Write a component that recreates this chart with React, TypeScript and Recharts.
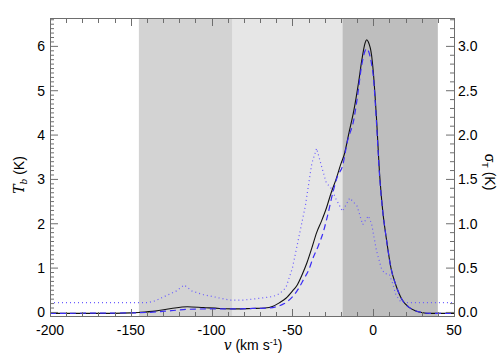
import { ComposedChart, Line, XAxis, YAxis, ReferenceArea } from 'recharts';

// observed brightness temperature T_b (K)
const tbVel = [-200, -180, -160, -150, -145, -135, -125, -115, -105, -95, -85, -75, -67, -62, -58, -54, -50, -47, -44, -41, -38, -35, -32, -29, -26, -23, -20, -18, -15, -12, -9, -7, -5, -4, -3, -1, 0, 2, 4, 6, 8, 11, 14, 18, 22, 26, 30, 35, 50];
const tbVals = [-0.02, -0.02, -0.02, -0.01, 0.0, 0.03, 0.09, 0.13, 0.11, 0.09, 0.08, 0.09, 0.1, 0.14, 0.22, 0.32, 0.48, 0.62, 0.85, 1.12, 1.45, 1.8, 2.06, 2.35, 2.7, 3.0, 3.35, 3.55, 4.05, 4.55, 5.2, 5.7, 6.08, 6.15, 6.1, 5.8, 5.45, 4.4, 3.1, 2.25, 1.7, 1.0, 0.62, 0.28, 0.12, 0.04, 0.0, -0.02, -0.02];

// model spectrum (dashed)
const fitVel = [-200, -150, -140, -125, -115, -100, -85, -75, -65, -60, -55, -50, -46, -43, -40, -37, -34, -31, -28, -25, -22, -19, -16, -12, -10, -7, -5, -4, -3, -1, 0, 2, 4, 6, 8, 11, 14, 18, 22, 26, 30, 35, 50];
const fitVals = [-0.02, -0.01, 0.0, 0.04, 0.07, 0.08, 0.08, 0.09, 0.1, 0.13, 0.2, 0.35, 0.55, 0.75, 0.95, 1.25, 1.5, 1.8, 2.22, 2.7, 3.08, 3.3, 3.85, 4.35, 4.8, 5.6, 5.9, 5.95, 5.9, 5.6, 5.35, 4.3, 3.05, 2.25, 1.7, 1.0, 0.62, 0.28, 0.12, 0.04, 0.0, -0.02, -0.02];

// noise sigma_T (K), right axis
const sigmaVel = [-200, -140, -135, -128, -122, -117, -112, -105, -97, -89, -80, -70, -62, -58, -54, -50, -46, -42, -38, -35, -32, -29, -26, -23, -19, -14.5, -10, -6.5, -3, -1, 2, 5, 7, 10, 12, 14, 17, 20, 50];
const sigmaVals = [0.11, 0.11, 0.13, 0.19, 0.24, 0.31, 0.24, 0.2, 0.17, 0.14, 0.14, 0.16, 0.18, 0.21, 0.28, 0.5, 0.85, 1.2, 1.68, 1.85, 1.65, 1.46, 1.4, 1.28, 1.14, 1.29, 1.2, 0.99, 1.09, 1.0, 0.7, 0.5, 0.44, 0.43, 0.33, 0.2, 0.12, 0.11, 0.11];

// velocity windows (km/s)
const windowEdges = [-145, -87, -19, 40];

const xMajor = [-200, -150, -100, -50, 0, 50];
const yLeftTicks = [0, 1, 2, 3, 4, 5, 6];
const yRightTicks = [0, 0.5, 1, 1.5, 2, 2.5, 3];

const X_DOMAIN: [number, number] = [-200, 50];
const YL_DOMAIN: [number, number] = [-0.08, 6.64];
const YR_DOMAIN: [number, number] = [-0.04, 3.32];

const steps = (from: number, to: number, step: number) => {
  const out: number[] = [];
  for (let i = 0; from + i * step <= to + 1e-9; i++) out.push(+(from + i * step).toFixed(2));
  return out;
};
const xMinor = steps(-200, 50, 10);
const yLeftMinor = steps(0, 6.6, 0.1);
const yRightMinor = steps(0, 3.3, 0.1);

const zip = (v: number[], t: number[]) => v.map((x, i) => ({ v: x, t: t[i] }));
const tbData = zip(tbVel, tbVals);
const fitData = zip(fitVel, fitVals);
const sigmaData = zip(sigmaVel, sigmaVals);

const WINDOW_FILLS = ['#d3d3d3', '#e6e6e6', '#bebebe'];
const AX = '#6e6e6e';
const FS = 14;
// plot box inside the 504x360 chart
const PLOT = { left: 50, top: 18, right: 454, bottom: 316 };
const isIn = (list: number[], v: number) => list.some((t) => Math.abs(t - v) < 1e-6);

// labels only on major ticks
const BottomTick = ({ x, y, payload }: any) =>
  isIn(xMajor, payload.value) ? (
    <text x={x} y={y + 9} dy="0.71em" textAnchor="middle" fontSize={FS} fill="#000">
      {payload.value}
    </text>
  ) : (
    <g />
  );
// y tick marks point into the plot (IDL style)
const LeftTick = ({ x, y, payload }: any) => {
  const major = isIn(yLeftTicks, payload.value);
  return (
    <g>
      <line x1={x} x2={x + (major ? 8 : 4)} y1={y} y2={y} stroke={AX} strokeWidth={1} />
      {major && (
        <text x={x - 5} y={y} dy="0.36em" textAnchor="end" fontSize={FS} fill="#000">
          {payload.value}
        </text>
      )}
    </g>
  );
};
const RightTick = ({ x, y, payload }: any) => {
  const major = isIn(yRightTicks, payload.value);
  return (
    <g>
      <line x1={x} x2={x - (major ? 8 : 4)} y1={y} y2={y} stroke={AX} strokeWidth={1} />
      {major && (
        <text x={x + 4} y={y} dy="0.36em" textAnchor="start" fontSize={FS} fill="#000">
          {payload.value.toFixed(1)}
        </text>
      )}
    </g>
  );
};

const xPix = (v: number) =>
  PLOT.left + ((v - X_DOMAIN[0]) / (X_DOMAIN[1] - X_DOMAIN[0])) * (PLOT.right - PLOT.left);

export default function App() {
  const innerTicks = xMinor.filter((v) => v > X_DOMAIN[0] && v < X_DOMAIN[1]);
  return (
    <div style={{ position: 'absolute', left: 0, top: 0, width: 504, height: 360, fontFamily: '"Liberation Sans", Arial, sans-serif' }}>
      <ComposedChart width={504} height={360} margin={{ top: 17, right: 0, bottom: 14, left: 0 }}>
        <XAxis
          xAxisId="x"
          dataKey="v"
          type="number"
          domain={X_DOMAIN}
          allowDataOverflow
          ticks={xMinor}
          interval={0}
          tickLine={false}
          axisLine={false}
          tickSize={0}
          tickMargin={0}
          tick={BottomTick}
          height={30}
        />
        <XAxis xAxisId="top" orientation="top" type="number" domain={X_DOMAIN} allowDataOverflow tick={false} tickLine={false} axisLine={false} height={1} />
        <YAxis
          yAxisId="yl"
          type="number"
          domain={YL_DOMAIN}
          allowDataOverflow
          ticks={yLeftMinor}
          interval={0}
          tickLine={false}
          axisLine={false}
          tickSize={0}
          tickMargin={0}
          tick={LeftTick}
          width={50}
        />
        <YAxis
          yAxisId="yr"
          orientation="right"
          type="number"
          domain={YR_DOMAIN}
          allowDataOverflow
          ticks={yRightMinor}
          interval={0}
          tickLine={false}
          axisLine={false}
          tickSize={0}
          tickMargin={0}
          tick={RightTick}
          width={50}
        />

        {WINDOW_FILLS.map((fill, i) => (
          <ReferenceArea
            key={`win-${i}`}
            xAxisId="x"
            yAxisId="yl"
            x1={windowEdges[i]}
            x2={windowEdges[i + 1]}
            fill={fill}
            fillOpacity={1}
            stroke="none"
          />
        ))}

        <Line
          data={sigmaData}
          xAxisId="x"
          yAxisId="yr"
          dataKey="t"
          type="linear"
          stroke="#6a5cff"
          strokeWidth={1.2}
          strokeDasharray="1 3"
          dot={false}
          isAnimationActive={false}
        />
        <Line
          data={tbData}
          xAxisId="x"
          yAxisId="yl"
          dataKey="t"
          type="monotone"
          stroke="#111"
          strokeWidth={1.1}
          dot={false}
          isAnimationActive={false}
        />
        <Line
          data={fitData}
          xAxisId="x"
          yAxisId="yl"
          dataKey="t"
          type="monotone"
          stroke="#3b2df5"
          strokeWidth={1.2}
          strokeDasharray="6 4"
          dot={false}
          isAnimationActive={false}
        />
      </ComposedChart>

      {/* plot frame and inward x tick marks */}
      <div
        style={{
          position: 'absolute',
          left: PLOT.left,
          top: PLOT.top,
          width: PLOT.right - PLOT.left + 1,
          height: PLOT.bottom - PLOT.top + 1,
          border: `1px solid ${AX}`,
          boxSizing: 'border-box',
          pointerEvents: 'none',
        }}
      />
      {innerTicks.map((v) => {
        const len = isIn(xMajor, v) ? 7 : 4;
        const left = Math.round(xPix(v));
        return (
          <div key={`xt-${v}`}>
            <div style={{ position: 'absolute', left, top: PLOT.bottom - len, width: 1, height: len, background: AX }} />
            <div style={{ position: 'absolute', left, top: PLOT.top + 1, width: 1, height: len, background: AX }} />
          </div>
        );
      })}

      <div
        style={{
          position: 'absolute',
          left: 20,
          top: 175,
          transform: 'translate(-50%, -50%) rotate(-90deg)',
          whiteSpace: 'nowrap',
          fontSize: 14,
        }}
      >
        <span style={{ fontFamily: '"DejaVu Serif", serif', fontStyle: 'italic' }}>T</span>
        <sub style={{ fontFamily: '"DejaVu Serif", serif', fontStyle: 'italic', fontSize: 9 }}>b</sub> (K)
      </div>
      <div
        style={{
          position: 'absolute',
          left: 489,
          top: 172,
          transform: 'translate(-50%, -50%) rotate(90deg)',
          whiteSpace: 'nowrap',
          fontSize: 14,
        }}
      >
        σ<sub style={{ fontSize: 9 }}>T</sub> (K)
      </div>
      <div
        style={{
          position: 'absolute',
          left: 253,
          top: 345,
          transform: 'translate(-50%, -50%)',
          whiteSpace: 'nowrap',
          fontSize: 14,
        }}
      >
        <span style={{ fontFamily: '"DejaVu Serif", serif', fontStyle: 'italic' }}>v</span> (km s
        <sup style={{ fontSize: 9 }}>-1</sup>)
      </div>
    </div>
  );
}
